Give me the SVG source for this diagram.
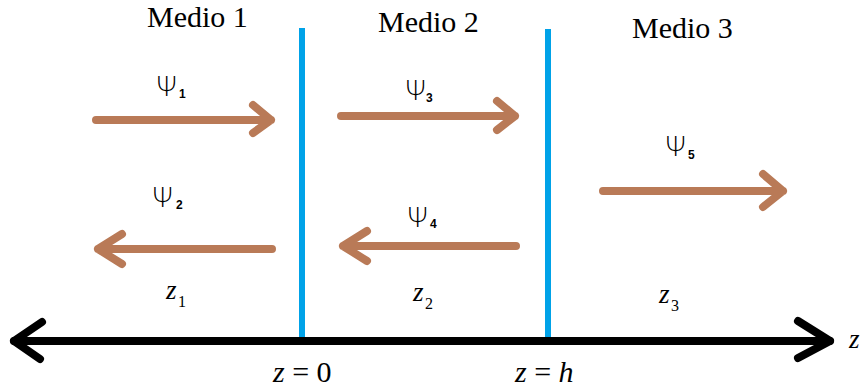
<svg xmlns="http://www.w3.org/2000/svg" width="862" height="392" viewBox="0 0 862 392">
<style>
.medio{font-family:"Liberation Serif",serif;font-size:30px;fill:#000}
.psi{font-family:"DejaVu Sans","Liberation Sans",sans-serif;font-size:27px;font-weight:200;fill:#000}
.sub{font-family:"Liberation Sans",sans-serif;font-size:12px;font-weight:bold;fill:#000}
.zi{font-family:"Liberation Serif",serif;font-size:27px;font-style:italic;fill:#000}
.zs{font-family:"Liberation Serif",serif;font-size:16px;fill:#000}
.eq{font-family:"Liberation Serif",serif;font-size:30px;fill:#000}
.wave{fill:none;stroke:#B97A57;stroke-width:8;stroke-linecap:round;stroke-linejoin:round}
.iface{stroke:#00A2E8;stroke-width:6}
.axis{fill:none;stroke:#000;stroke-width:8;stroke-linecap:round;stroke-linejoin:round}
</style>
<rect width="862" height="392" fill="#fff"/>
<g id="interface1"><line class="iface" x1="302" y1="28" x2="302" y2="338"/></g>
<g id="interface2"><line class="iface" x1="548" y1="29" x2="548" y2="338"/></g>
<g id="axis">
<path class="axis" d="M14 341 H830"/>
<path class="axis" d="M42 322 L14 341 L40 359"/>
<path class="axis" d="M798 321 L830 341 L798 358"/>
<text class="zi" x="849" y="348" font-size="26">z</text>
</g>
<g id="medio1"><text class="medio" x="147" y="27">Medio 1</text></g>
<g id="medio2"><text class="medio" x="378" y="32">Medio 2</text></g>
<g id="medio3"><text class="medio" x="632" y="38">Medio 3</text></g>
<g id="connectors">
<g id="psi1-arrow"><path class="wave" d="M96 120 H271 M253 105 L271 120 L253 133"/></g>
<g id="psi2-arrow"><path class="wave" d="M272 249 H98 M122 234 L98 249 L122 264"/></g>
<g id="psi3-arrow"><path class="wave" d="M341 116 H515 M497 101 L515 116 L497 130"/></g>
<g id="psi4-arrow"><path class="wave" d="M516 246 H343 M367 231 L343 246 L367 261"/></g>
<g id="psi5-arrow"><path class="wave" d="M603 191 H783 M763 174 L783 191 L763 207"/></g>
</g>
<g id="psi1"><text class="psi" x="156" y="96">Ψ</text><text class="sub" x="179" y="98">1</text></g>
<g id="psi2"><text class="psi" x="152" y="207">Ψ</text><text class="sub" x="176" y="209">2</text></g>
<g id="psi3"><text class="psi" x="405" y="100">Ψ</text><text class="sub" x="426" y="102">3</text></g>
<g id="psi4"><text class="psi" x="407" y="227">Ψ</text><text class="sub" x="430" y="228">4</text></g>
<g id="psi5"><text class="psi" x="665" y="156">Ψ</text><text class="sub" x="688" y="159">5</text></g>
<g id="z1"><text class="zi" x="166" y="299">z</text><text class="zs" x="178" y="307">1</text></g>
<g id="z2"><text class="zi" x="413" y="301">z</text><text class="zs" x="425" y="309">2</text></g>
<g id="z3"><text class="zi" x="659" y="303">z</text><text class="zs" x="671" y="311">3</text></g>
<g id="z0"><text class="eq" x="273" y="382"><tspan font-style="italic">z</tspan> = 0</text></g>
<g id="zh"><text class="eq" x="515" y="382"><tspan font-style="italic">z</tspan> = <tspan font-style="italic">h</tspan></text></g>
</svg>
